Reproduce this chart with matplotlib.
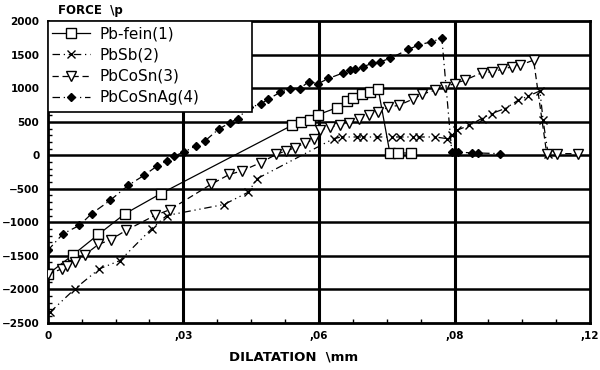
import numpy as np
import matplotlib
matplotlib.use("Agg")
import matplotlib.pyplot as plt
from matplotlib.ticker import MultipleLocator
from matplotlib.patches import Rectangle

# values (dilatation in mm, force in p)
pb_fein_x = [0.0, 0.0057, 0.0112, 0.0171, 0.025, 0.0541, 0.0561, 0.058, 0.0599, 0.0641,
             0.0662, 0.0676, 0.0695, 0.0713, 0.0731, 0.0757, 0.0776, 0.0803]
pb_fein_y = [-1780, -1482, -1183, -873, -573, 450, 500, 524, 609, 714,
             808, 863, 913, 948, 998, 35, 35, 35]

pbsb_x = [0.0005, 0.006, 0.0114, 0.016, 0.023, 0.0263, 0.039, 0.0444, 0.0463, 0.0633,
          0.065, 0.0684, 0.0697, 0.0729, 0.0761, 0.0779, 0.0809, 0.0822, 0.0857, 0.0883,
          0.0894, 0.0905, 0.0933, 0.096, 0.0982, 0.1012, 0.1041, 0.1063, 0.1089, 0.1096,
          0.1107]
pbsb_y = [-2346, -1996, -1697, -1572, -1097, -900, -735, -550, -350, 250,
          274, 274, 274, 274, 274, 274, 274, 274, 274, 250,
          299, 374, 449, 549, 624, 699, 823, 883, 963, 524,
          25]

pbcosn_x = [0.0, 0.0031, 0.0042, 0.006, 0.0083, 0.0112, 0.0139, 0.0173, 0.0237, 0.027,
            0.0361, 0.0402, 0.0429, 0.0471, 0.0506, 0.0527, 0.0548, 0.057, 0.059, 0.0602,
            0.0624, 0.0646, 0.0667, 0.0688, 0.071, 0.0731, 0.0752, 0.0778, 0.0808, 0.0829,
            0.0857, 0.0879, 0.0901, 0.0923, 0.096, 0.0982, 0.1004, 0.1027, 0.1045, 0.1075,
            0.1104, 0.1126, 0.1174]
pbcosn_y = [-1780, -1697, -1647, -1597, -1482, -1332, -1262, -1123, -898, -813,
            -435, -285, -235, -110, 15, 65, 115, 190, 240, 374,
            424, 450, 490, 540, 600, 640, 715, 750, 840, 915,
            973, 1023, 1073, 1123, 1232, 1247, 1283, 1322, 1347, 1422,
            25, 25, 25]

pbcosnag_x = [0.0, 0.0034, 0.007, 0.0097, 0.0138, 0.0178, 0.0213, 0.0242, 0.0263, 0.028,
              0.0302, 0.0327, 0.0348, 0.0378, 0.0404, 0.042, 0.0446, 0.0471, 0.0488, 0.0514,
              0.0535, 0.0558, 0.0577, 0.0599, 0.0621, 0.0654, 0.0669, 0.068, 0.0697, 0.0717,
              0.0735, 0.0757, 0.0798, 0.082, 0.0849, 0.0872, 0.0894, 0.0908, 0.0938, 0.0953,
              0.1001]
pbcosnag_y = [-1422, -1172, -1048, -873, -674, -449, -300, -160, -85, -10,
              50, 140, 215, 390, 490, 550, 715, 765, 840, 940,
              990, 998, 1098, 1073, 1148, 1232, 1272, 1283, 1322, 1372,
              1397, 1447, 1582, 1647, 1697, 1747, 50, 50, 35, 35,
              25]

x_ticks = [0, 0.03, 0.06, 0.09, 0.12]
x_labels = ['0', ',03', ',06', ',08', ',12']
y_ticks = [2000, 1500, 1000, 500, 0, -500, -1000, -1500, -2000, -2500]

fig = plt.figure(figsize=(6, 3.7), dpi=100)
ax = fig.add_axes([0.0795, 0.128, 0.904, 0.814])

# grid: heavy plotter lines
for yv in y_ticks[1:-1]:
    ax.axhline(yv, color='black', lw=1.8, zorder=1)
for xv in x_ticks[1:-1]:
    ax.axvline(xv, color='black', lw=2.2, zorder=1)

ax.plot(pb_fein_x, pb_fein_y, color='black', lw=0.9, ls='-', marker='s', ms=7,
        mfc='white', mec='black', mew=1.0, label='Pb-fein(1)', zorder=3)
ax.plot(pbsb_x, pbsb_y, color='black', lw=0.9, ls=(0, (6, 3, 1, 3, 1, 3)), marker='x', ms=5.5,
        mew=1.0, label='PbSb(2)', zorder=3)
ax.plot(pbcosn_x, pbcosn_y, color='black', lw=0.9, ls=(0, (5, 3)), marker='v', ms=7,
        mfc='white', mec='black', mew=1.0, label='PbCoSn(3)', zorder=3)
ax.plot(pbcosnag_x, pbcosnag_y, color='black', lw=0.9, ls=(0, (6, 3, 1, 3)), marker='D', ms=4.5,
        mfc='black', mec='black', label='PbCoSnAg(4)', zorder=3)

ax.set_xlim(0, 0.12)
ax.set_ylim(-2500, 2000)
ax.set_xticks(x_ticks)
ax.set_xticklabels(x_labels)
ax.set_yticks(y_ticks)
ax.xaxis.set_minor_locator(MultipleLocator(0.0075))
ax.yaxis.set_minor_locator(MultipleLocator(100))
ax.tick_params(which='both', direction='in', top=False, right=False)
ax.tick_params(which='major', length=0, labelsize=7.5, pad=6)
ax.tick_params(which='minor', length=3, width=1)
for lab in ax.get_xticklabels() + ax.get_yticklabels():
    lab.set_fontweight('bold')
for sp in ax.spines.values():
    sp.set_linewidth(2)

# legend box drawn by hand so it is as wide as on the original
box = Rectangle((0, 0.7), 0.376, 0.3, transform=ax.transAxes, facecolor='white',
                edgecolor='black', lw=1.2, zorder=4)
ax.add_patch(box)
leg = ax.legend(loc='upper left', bbox_to_anchor=(0, 1), borderaxespad=0,
                frameon=False, fontsize=11, handlelength=2.5, handletextpad=0.6,
                labelspacing=0.42, borderpad=0.3)
leg.set_zorder(5)

fig.text(0.097, 0.955, 'FORCE  \\p', fontsize=8.5, fontweight='bold', ha='left', va='bottom')
fig.text(0.49, 0.018, 'DILATATION  \\mm', fontsize=9.5, fontweight='bold', ha='center', va='bottom')

fig.savefig('out.png', dpi=100)
